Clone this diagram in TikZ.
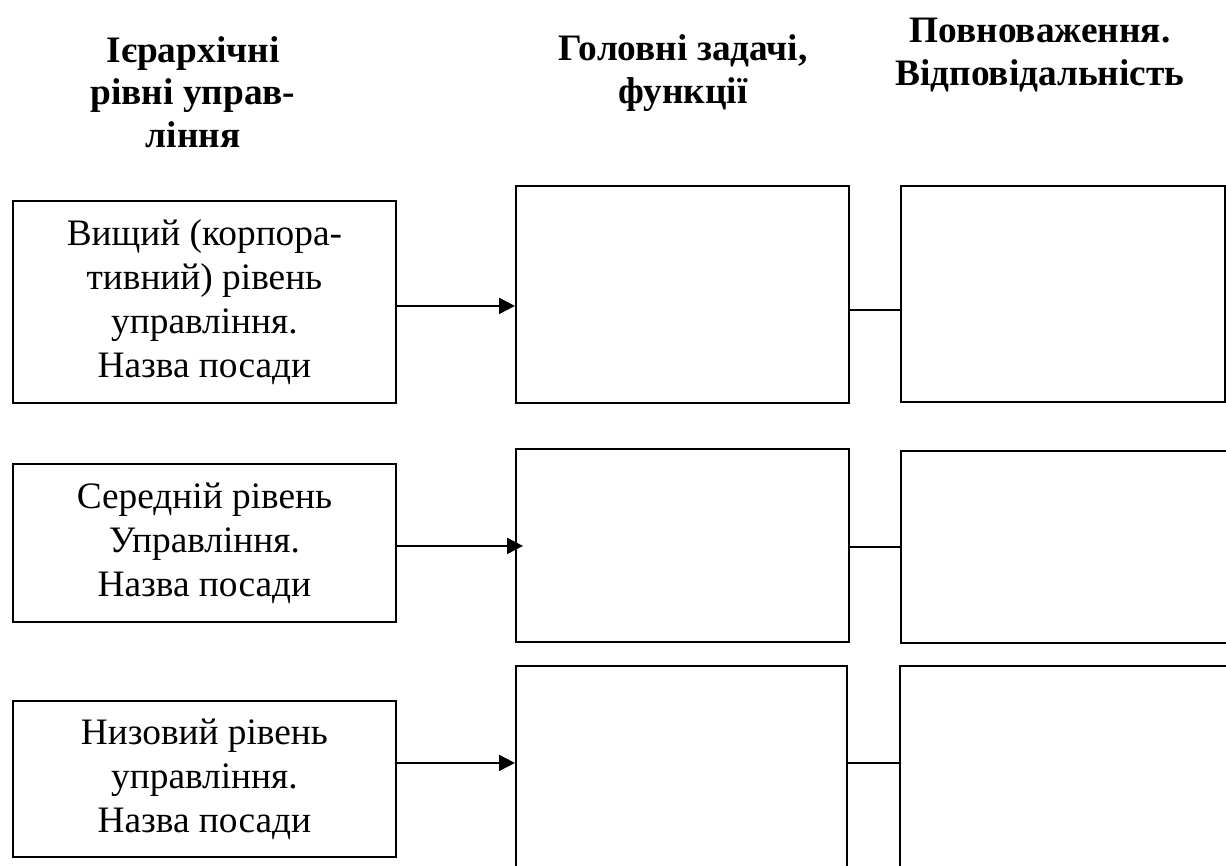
\documentclass[tikz,border=0pt]{standalone}
\usepackage{fontspec}
\setmainfont{Liberation Serif}
\usetikzlibrary{arrows.meta, positioning}

\newdimen\px
\px=0.75pt

\tikzset{
  levelbox/.style={draw, line width=1.4pt, anchor=north west, inner sep=0pt,
    align=center, font=\fontsize{28}{33}\selectfont},
  emptybox/.style={draw, line width=1.4pt, anchor=north west, inner sep=0pt},
  head/.style={align=center, inner sep=0pt,
    font=\bfseries\fontsize{28}{32}\selectfont},
  arr/.style={-{Triangle[length=12pt,width=12pt]}, line width=1.4pt},
  link/.style={line width=1.4pt}
}

\begin{document}
\begin{tikzpicture}[x=0.75pt, y=-0.75pt]

\fill[white] (0,0) rectangle (1226,866);
\useasboundingbox (0,0) rectangle (1226,866);

% --- headers ---------------------------------------------------------------
\node[head] (hlevel) at (193,92) {Ієрархічні\\рівні управ-\\ління};
\node[head] (htask) at (683,73) {Головні задачі,\\функції};
\node[head] (hpower) at (1040,55) {Повноваження.\\Відповідальність};

% --- levels ----------------------------------------------------------------
\node[levelbox, minimum width={383*\px}, minimum height={202*\px}] (l1) at (12,200)
  {Вищий (корпора-\\тивний) рівень\\управління.\\Назва посади};
\node[levelbox, minimum width={383*\px}, minimum height={158*\px}] (l2) at (12,463)
  {Середній рівень\\Управління.\\Назва посади};
\node[levelbox, minimum width={383*\px}, minimum height={156*\px}] (l3) at (12,700)
  {Низовий рівень\\управління.\\Назва посади};

% --- tasks and powers (empty) ------------------------------------------------
\node[emptybox, minimum width={333*\px}, minimum height={217*\px}] (m1) at (515,185) {};
\node[emptybox, minimum width={333*\px}, minimum height={193*\px}] (m2) at (515,448) {};
\node[emptybox, minimum width={331*\px}, minimum height={215*\px}] (m3) at (515,665) {};

\node[emptybox, minimum width={324*\px}, minimum height={216*\px}] (r1) at (900,185) {};
\node[emptybox, minimum width={345*\px}, minimum height={192*\px}] (r2) at (900,450) {};
\node[emptybox, minimum width={345*\px}, minimum height={215*\px}] (r3) at (899,665) {};

% --- connectors -------------------------------------------------------------
\draw[arr] ([yshift=-3pt]l1.east) -- ([yshift=-3pt]l1.east -| m1.west);
\draw[arr, shorten >=-6pt] ([yshift=-2.25pt]l2.east) -- ([yshift=-2.25pt]l2.east -| m2.west);
\draw[arr] ([yshift=12pt]l3.east) -- ([yshift=12pt]l3.east -| m3.west);

\draw[link] ([yshift=-11.6pt]m1.east) -- ([yshift=-11.6pt]m1.east -| r1.west);
\draw[link] ([yshift=-1.1pt]m2.east) -- ([yshift=-1.1pt]m2.east -| r2.west);
\draw[link] ([yshift=7.9pt]m3.east) -- ([yshift=7.9pt]m3.east -| r3.west);

\end{tikzpicture}
\end{document}
